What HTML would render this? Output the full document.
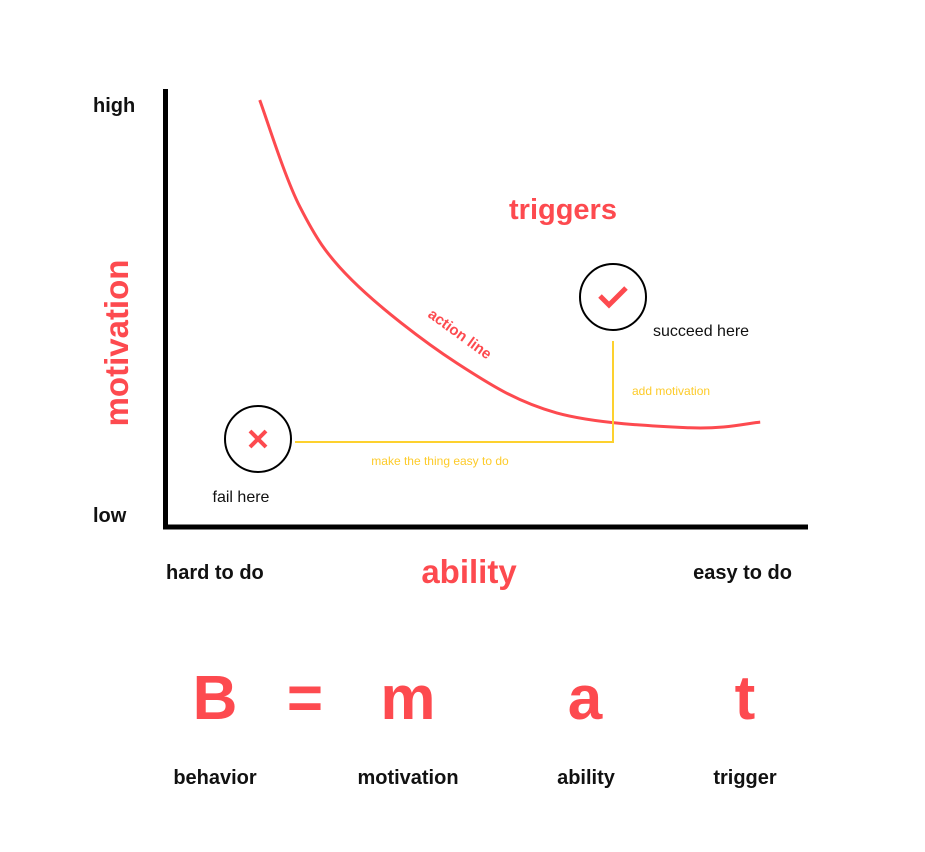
<!DOCTYPE html>
<html><head><meta charset="utf-8"><style>
html,body{margin:0;padding:0;background:#fff;}
body{width:925px;height:847px;overflow:hidden;font-family:"Liberation Sans",sans-serif;}
</style></head><body>
<svg width="925" height="847" viewBox="0 0 925 847" font-family="Liberation Sans, sans-serif">
<g id="plot"></g>
<line x1="165.5" y1="89" x2="165.5" y2="529" stroke="#000" stroke-width="5"/>
<line x1="163" y1="527" x2="808" y2="527" stroke="#000" stroke-width="5"/>
<text x="93" y="112" font-size="20" font-weight="bold" fill="#111">high</text>
<text x="93" y="522" font-size="20" font-weight="bold" fill="#111">low</text>
<text transform="translate(128,343) rotate(-90)" text-anchor="middle" font-size="33" font-weight="bold" fill="#fd4a4f">motivation</text>
<text x="166" y="579" font-size="20" font-weight="bold" fill="#111">hard to do</text>
<text x="792" y="579" text-anchor="end" font-size="20" font-weight="bold" fill="#111">easy to do</text>
<text x="469" y="583" text-anchor="middle" font-size="33" font-weight="bold" fill="#fd4a4f">ability</text>
<text x="563" y="219" text-anchor="middle" font-size="29" font-weight="bold" fill="#fd4a4f">triggers</text>
<text transform="translate(457,338) rotate(36)" text-anchor="middle" font-size="15" font-weight="bold" fill="#fd4a4f">action line</text>
<polyline points="295,442 613,442 613,341" fill="none" stroke="#fdd12e" stroke-width="2"/>
<text x="440" y="465" text-anchor="middle" font-size="12" fill="#fdcb2a">make the thing easy to do</text>
<text x="632" y="395" font-size="12" fill="#fdcb2a">add motivation</text>
<circle cx="258" cy="439" r="33" fill="#fff" stroke="#000" stroke-width="2"/>
<g stroke="#fd4a4f" stroke-width="4"><line x1="250" y1="431" x2="266" y2="447"/><line x1="266" y1="431" x2="250" y2="447"/></g>
<text x="241" y="502" text-anchor="middle" font-size="16" fill="#111">fail here</text>
<circle cx="613" cy="297" r="33" fill="#fff" stroke="#000" stroke-width="2"/>
<polyline points="600,296 609,305 626,288" fill="none" stroke="#fd4a4f" stroke-width="5"/>
<text x="653" y="336" font-size="16" fill="#111">succeed here</text>
<g font-weight="bold" fill="#fd4a4f" font-size="62" text-anchor="middle">
<text x="215" y="719">B</text>
<text x="305" y="719">=</text>
<text x="408" y="719">m</text>
<text x="585" y="719">a</text>
<text x="745" y="719">t</text>
</g>
<g font-weight="bold" fill="#111" font-size="20" text-anchor="middle">
<text x="215" y="784">behavior</text>
<text x="408" y="784">motivation</text>
<text x="586" y="784">ability</text>
<text x="745" y="784">trigger</text>
</g>
</svg>
<script>
const abilityValues = [14.8, 21.1, 29.2, 45.6, 61.2, 82.0, 93.0];
const motivationValues = [97.7, 73.2, 56.5, 37.5, 26.1, 22.7, 24.0];
function xScale(v){ return 165 + v / 100 * 640; }
function yScale(v){ return 527 - v / 100 * 437; }
const pts = abilityValues.map((a, i) => [xScale(a), yScale(motivationValues[i])]);
let d = 'M' + pts[0][0] + ',' + pts[0][1];
for (let i = 0; i < pts.length - 1; i++) {
  const p0 = pts[Math.max(0, i - 1)], p1 = pts[i], p2 = pts[i + 1], p3 = pts[Math.min(pts.length - 1, i + 2)];
  const c1x = p1[0] + (p2[0] - p0[0]) / 6, c1y = p1[1] + (p2[1] - p0[1]) / 6;
  const c2x = p2[0] - (p3[0] - p1[0]) / 6, c2y = p2[1] - (p3[1] - p1[1]) / 6;
  d += ' C' + c1x + ',' + c1y + ' ' + c2x + ',' + c2y + ' ' + p2[0] + ',' + p2[1];
}
const path = document.createElementNS('http://www.w3.org/2000/svg', 'path');
path.setAttribute('d', d);
path.setAttribute('fill', 'none');
path.setAttribute('stroke', '#fd4a4f');
path.setAttribute('stroke-width', '3');


document.getElementById('plot').appendChild(path);
</script>
</body></html>
